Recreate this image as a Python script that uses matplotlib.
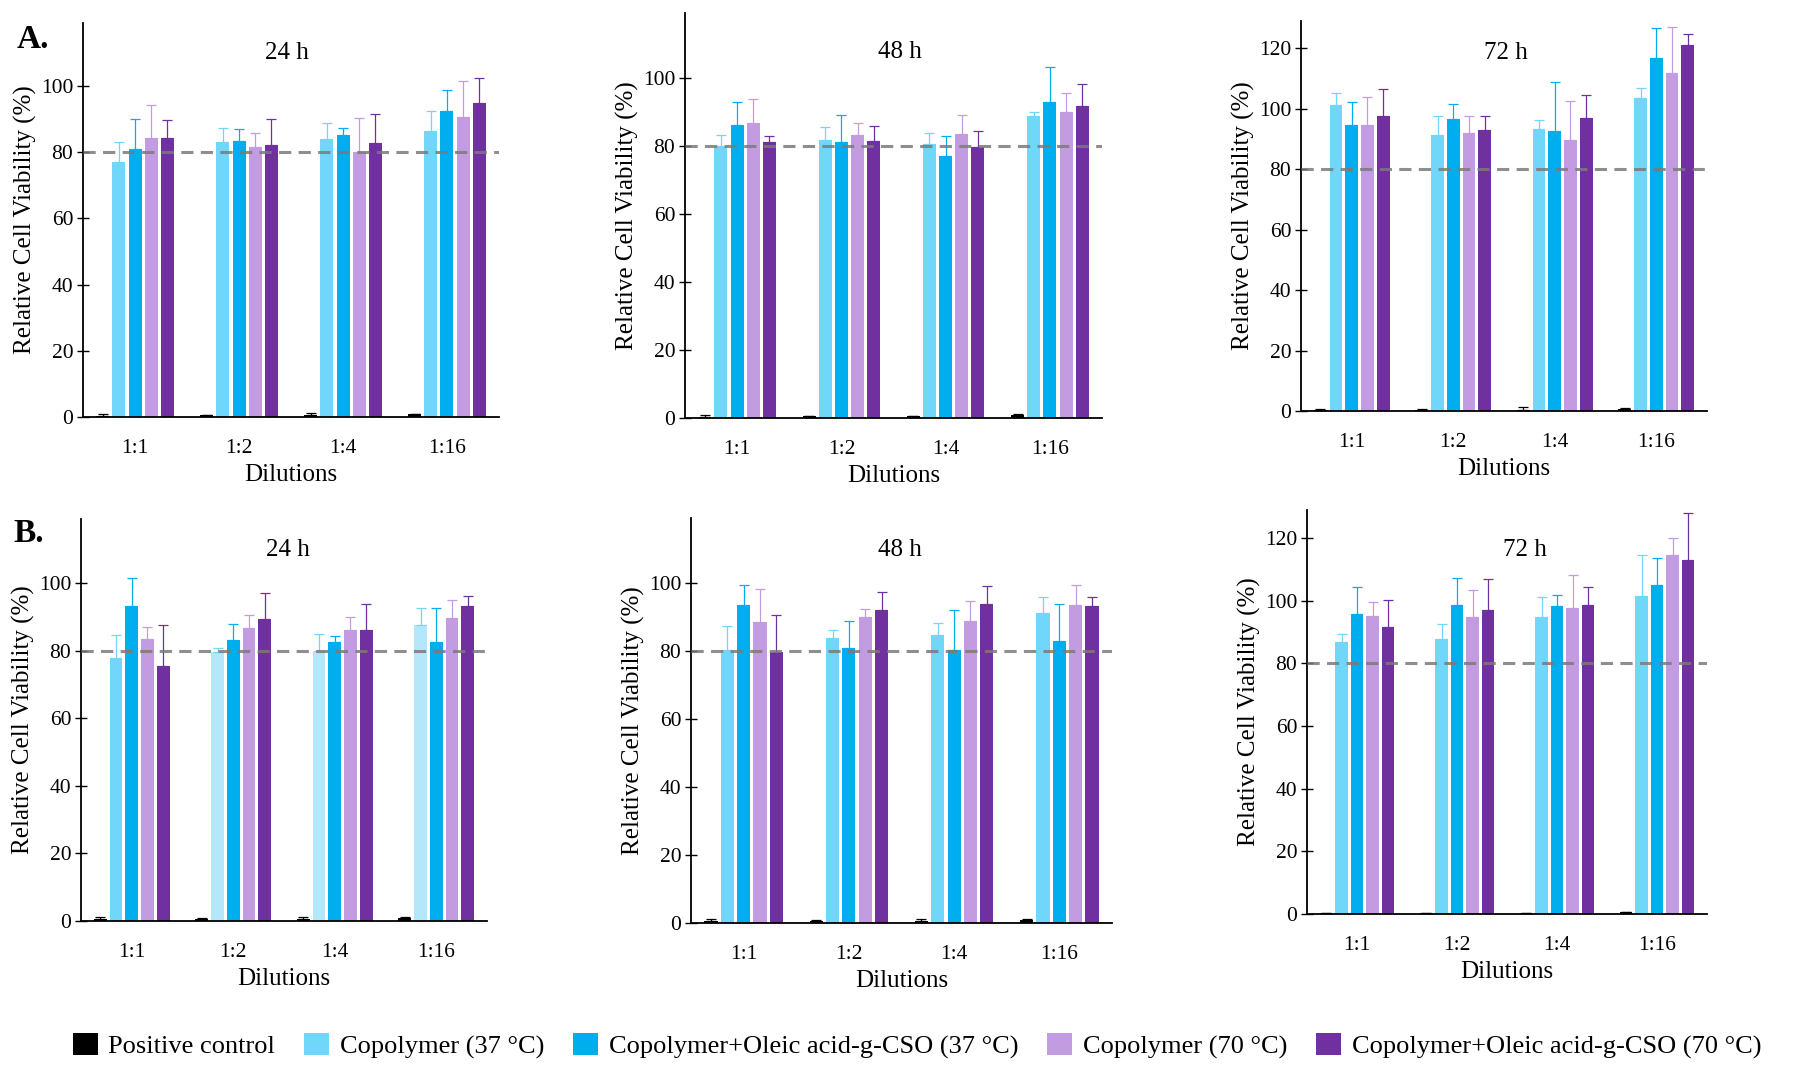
import matplotlib
matplotlib.use("Agg")
import matplotlib.pyplot as plt
from matplotlib.patches import Patch
import numpy as np

plt.rcParams['font.family'] = ['Liberation Serif', 'DejaVu Serif']

W, H = 1800, 1078

dilutions = ["1:1", "1:2", "1:4", "1:16"]
series_names = ["Positive control", "Copolymer (37 °C)", "Copolymer+Oleic acid-g-CSO (37 °C)",
                "Copolymer (70 °C)", "Copolymer+Oleic acid-g-CSO (70 °C)"]
series_colors = ["#000000", "#70d7fb", "#00adef", "#c29be0", "#7030a0"]
pale_blue = "#b5e7fa"

# rows: positive control, copolymer 37, copolymer+CSO 37, copolymer 70, copolymer+CSO 70
a24_means = [[0.3, 0.5, 0.6, 0.8], [77.0, 83.2, 84.1, 86.3], [81.0, 83.4, 85.2, 92.5],
             [84.4, 81.4, 79.9, 90.5], [84.4, 82.1, 82.9, 94.7]]
a24_errs = [[0.5, 0.2, 0.6, 0.2], [6.0, 4.1, 4.8, 6.1], [9.0, 3.7, 2.1, 6.4],
            [9.9, 4.3, 10.4, 11.1], [5.2, 7.9, 8.5, 7.6]]

a48_means = [[0.3, 0.5, 0.5, 1.0], [79.8, 81.8, 80.5, 88.6], [86.2, 81.0, 77.0, 92.9],
             [86.6, 83.2, 83.4, 90.0], [81.0, 81.3, 79.5, 91.7]]
a48_errs = [[0.7, 0.2, 0.2, 0.2], [3.3, 3.6, 3.3, 1.4], [6.7, 8.1, 6.0, 10.3],
            [7.1, 3.6, 5.7, 5.4], [1.8, 4.4, 4.7, 6.3]]

a72_means = [[0.3, 0.3, 0.3, 0.8], [101.2, 91.2, 93.3, 103.5], [94.6, 96.7, 92.6, 116.7],
             [94.6, 92.0, 89.6, 111.8], [97.5, 93.0, 97.0, 121.0]]
a72_errs = [[0.2, 0.2, 0.9, 0.3], [4.0, 6.5, 2.9, 3.3], [7.5, 4.9, 16.2, 10.0],
            [9.4, 5.7, 12.9, 15.3], [9.0, 4.7, 7.5, 3.6]]

b24_means = [[0.5, 0.6, 0.6, 1.0], [77.9, 79.6, 80.0, 87.5], [93.3, 83.3, 82.5, 82.6],
             [83.6, 86.6, 86.2, 89.7], [75.4, 89.3, 86.2, 93.3]]
b24_errs = [[0.8, 0.2, 0.6, 0.2], [6.7, 1.2, 5.1, 5.1], [8.3, 4.6, 2.0, 10.2],
            [3.3, 4.0, 3.7, 5.4], [12.3, 7.7, 7.6, 2.9]]

b48_means = [[0.5, 0.7, 0.6, 1.0], [80.2, 83.8, 84.6, 91.2], [93.3, 80.9, 80.2, 82.8],
             [88.3, 90.0, 88.7, 93.5], [79.5, 92.1, 93.6, 93.2]]
b48_errs = [[0.7, 0.2, 0.7, 0.2], [7.2, 2.4, 3.6, 4.6], [5.9, 7.7, 11.9, 11.0],
            [9.7, 2.4, 5.9, 5.7], [11.0, 5.1, 5.4, 2.6]]

b72_means = [[0.2, 0.2, 0.2, 0.5], [87.0, 87.8, 94.7, 101.4], [95.9, 98.6, 98.3, 104.9],
             [95.1, 94.8, 97.6, 114.5], [91.6, 97.1, 98.6, 112.9]]
b72_errs = [[0.1, 0.1, 0.1, 0.1], [2.3, 4.8, 6.4, 13.1], [8.5, 8.8, 3.5, 8.7],
            [4.4, 8.7, 10.7, 5.5], [8.7, 9.9, 5.7, 15.3]]

fig = plt.figure(figsize=(W / 100, H / 100), dpi=100)


def draw_panel(box, means, errs, title, title_xy, ymax, yticks, c37_colors=None):
    l, t, r, b = box
    ax = fig.add_axes([l / W, (H - b) / H, (r - l) / W, (b - t) / H])
    x = np.arange(len(dilutions))
    for j, (m, e) in enumerate(zip(means, errs)):
        xs = x + (j - 2) * 0.155
        colors = series_colors[j]
        if j == 1 and c37_colors is not None:
            colors = c37_colors
        ax.bar(xs, m, width=0.125, color=colors, zorder=2)
        ax.errorbar(xs, m, yerr=[np.zeros(len(e)), e], fmt='none', ecolor=series_colors[j],
                    elinewidth=0.9, capsize=3.5, capthick=0.9, zorder=3)
    ax.axhline(80, color='#7a7a7a', ls=(0, (4, 2.4)), lw=2.2, alpha=0.85, zorder=4)

    ax.set_xlim(-0.5, 3.5)
    ax.set_ylim(0, ymax)
    ax.set_xticks(x)
    ax.set_xticklabels(dilutions)
    ax.set_yticks(yticks)
    ax.tick_params(axis='y', direction='inout', length=8, width=1, labelsize=15.5, pad=3)
    ax.tick_params(axis='x', length=0, labelsize=15.5, pad=16)
    for s in ["top", "right"]:
        ax.spines[s].set_visible(False)
    for s in ["left", "bottom"]:
        ax.spines[s].set_linewidth(1.3)

    ax.set_ylabel("Relative Cell Viability (%)", fontsize=18, labelpad=3)
    ax.set_xlabel("Dilutions", fontsize=18, labelpad=4)
    ax.text(title_xy[0], title_xy[1], title, transform=ax.transAxes, fontsize=18,
            ha='center', va='center')
    return ax


ticks_100 = [0, 20, 40, 60, 80, 100]
ticks_120 = [0, 20, 40, 60, 80, 100, 120]

draw_panel((83, 23, 499, 417), a24_means, a24_errs, "24 h", (0.49, 0.925), 119, ticks_100)
draw_panel((685, 13, 1102, 418), a48_means, a48_errs, "48 h", (0.516, 0.904), 119, ticks_100)
draw_panel((1301, 21, 1707, 411), a72_means, a72_errs, "72 h", (0.505, 0.918), 129, ticks_120)

b24_c37_colors = [series_colors[1], pale_blue, pale_blue, pale_blue]
draw_panel((81, 519, 487, 921), b24_means, b24_errs, "24 h", (0.51, 0.923), 119, ticks_100,
           c37_colors=b24_c37_colors)
draw_panel((691, 518, 1112, 923), b48_means, b48_errs, "48 h", (0.496, 0.92), 119, ticks_100)
draw_panel((1307, 510, 1707, 914), b72_means, b72_errs, "72 h", (0.545, 0.90), 129, ticks_120)

fig.text(33 / W, 1 - 40 / H, "A.", fontsize=24, fontweight='bold', ha='center', va='center')
fig.text(29 / W, 1 - 533 / H, "B.", fontsize=24, fontweight='bold', ha='center', va='center')

handles = [Patch(facecolor=c, edgecolor='none') for c in series_colors]
fig.legend(handles, series_names, loc='center', bbox_to_anchor=(917 / W, (H - 1046) / H),
           ncol=5, frameon=False, fontsize=19, handlelength=0.95, handleheight=0.9,
           handletextpad=0.4, columnspacing=1.1)

fig.savefig("out.png", dpi=100)
